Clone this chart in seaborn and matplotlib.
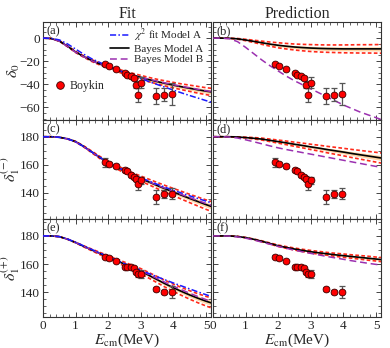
import numpy as np
import pandas as pd
import seaborn as sns
import matplotlib
matplotlib.use("Agg")
import matplotlib.pyplot as plt
from matplotlib.ticker import MultipleLocator, AutoMinorLocator
from matplotlib.lines import Line2D

# ---------------- data ----------------
E_grid = [0, 0.25, 0.5, 0.75, 1.0, 1.25, 1.5, 1.75, 2.0, 2.25, 2.5, 2.75,
          3.0, 3.25, 3.5, 3.75, 4.0, 4.25, 4.5, 4.75, 5.0, 5.25]

# Boykin data
E_data = [1.90, 2.01, 2.23, 2.51, 2.59, 2.69, 2.78, 2.86, 2.92, 2.99, 3.47, 3.72, 3.95]
d0_data = [-22.8, -24.0, -27.0, -30.2, -31.7, -33.2, -34.4, -40.4, -49.2, -38.6, -50.4, -49.2, -48.4]
d0_err = [1.0, 1.0, 1.0, 1.2, 1.2, 1.2, 1.5, 3.0, 6.0, 4.9, 6.8, 5.6, 9.3]
d1m_data = [161.6, 160.7, 158.8, 156.0, 155.3, 152.7, 151.0, 149.9, 145.9, 148.7, 136.9, 139.0, 139.0]
d1m_err = [3.0, 1.5, 1.5, 1.5, 1.5, 1.5, 1.5, 2.0, 4.4, 2.6, 5.0, 3.0, 4.0]
d1p_data = [165.3, 164.1, 162.2, 158.2, 158.2, 158.0, 157.0, 154.6, 153.1, 153.0, 142.4, 140.3, 140.3]
d1p_err = [1.0, 1.0, 1.0, 1.0, 1.0, 1.0, 1.0, 1.5, 2.0, 2.7, 1.5, 1.5, 4.3]

# (a) delta_0 fit
d0_fit_chi2 = [0, -0.2, -1.5, -5, -9.5, -14, -18, -21.2, -24.2, -27, -29.8, -32.5,
               -35.1, -37.7, -40.2, -42.7, -45.1, -47.5, -49.8, -52, -54.2, -56.3]
d0_fit_A = [0, -0.3, -2.5, -7, -12, -16, -19.5, -22.5, -25, -27.5, -30, -32,
            -34, -36, -37.7, -39.3, -40.8, -42.2, -43.5, -44.8, -46, -47]
d0_fit_B = [0, -0.3, -2.6, -7.2, -12.2, -16.2, -19.7, -22.6, -25.2, -27.6, -29.9, -31.9,
            -33.8, -35.6, -37.3, -38.9, -40.4, -41.8, -43.1, -44.4, -45.6, -46.7]
d0_fit_in = [0, 0, 0.1, 0.2, 0.3, 0.4, 0.5, 0.5, 0.6, 0.7, 0.8, 0.9,
             1.0, 1.1, 1.2, 1.3, 1.4, 1.5, 1.6, 1.7, 1.8, 1.9]
d0_fit_out = [0, 0, 0.2, 0.4, 0.5, 0.6, 0.8, 0.9, 1.0, 1.2, 1.4, 1.5,
              1.7, 1.9, 2.0, 2.2, 2.4, 2.5, 2.7, 2.9, 3.0, 3.2]

# (b) delta_0 prediction
d0_pred_A = [0, 0, -0.1, -0.6, -1.6, -2.8, -4, -5.2, -6.2, -7, -7.7, -8.2,
             -8.6, -8.9, -9.1, -9.2, -9.3, -9.3, -9.3, -9.3, -9.3, -9.3]
d0_pred_B = [0, 0, -0.5, -3, -8, -13.5, -19, -24, -28.5, -33, -37, -40.5,
             -44, -47.5, -51, -54.5, -58, -61, -64, -66.5, -69, -71.5]
d0_pred_in = [0, 0, 0, 0.1, 0.3, 0.5, 0.7, 0.9, 1.1, 1.2, 1.3, 1.4,
              1.5, 1.5, 1.6, 1.6, 1.7, 1.7, 1.8, 1.8, 1.8, 1.9]
d0_pred_out = [0, 0, 0.1, 0.3, 0.6, 1.0, 1.4, 1.8, 2.2, 2.4, 2.6, 2.8,
               3.0, 3.1, 3.2, 3.3, 3.4, 3.5, 3.6, 3.6, 3.7, 3.8]

# (c) delta_1^(-) fit
d1m_fit_chi2 = [180, 180, 179.6, 178.5, 176.4, 172.9, 169, 165.1, 161.7, 158.6, 155.7, 153,
                150.6, 148.2, 145.9, 143.7, 141.6, 139.6, 137.6, 135.7, 133.8, 132]
d1m_fit_A = [180, 180, 179.6, 178.5, 176.5, 173, 169, 165, 161.5, 158.3, 155.3, 152.5,
             150, 147.5, 145, 142.6, 140.3, 138, 135.7, 133.5, 131.3, 129.3]
d1m_fit_B = [180, 180, 179.6, 178.4, 176.3, 172.8, 168.9, 165, 161.5, 158.4, 155.4, 152.7,
             150.2, 147.7, 145.3, 143, 140.7, 138.5, 136.3, 134.2, 132.1, 130.2]
d1m_fit_in = [0, 0, 0, 0.05, 0.1, 0.2, 0.3, 0.4, 0.5, 0.6, 0.7, 0.8,
              0.9, 1.0, 1.1, 1.2, 1.3, 1.4, 1.5, 1.6, 1.7, 1.8]
d1m_fit_out = [0, 0, 0, 0.1, 0.2, 0.4, 0.6, 0.8, 1.0, 1.2, 1.4, 1.6,
               1.8, 2.0, 2.2, 2.4, 2.6, 2.8, 3.0, 3.2, 3.4, 3.6]

# (d) delta_1^(-) prediction
d1m_pred_A = [180, 180, 180, 179.8, 179.4, 178.9, 178.3, 177.4, 176.5, 175.6, 174.6, 173.7,
              172.7, 171.8, 170.8, 169.9, 169, 168, 167.1, 166.2, 165.3, 164.4]
d1m_pred_B = [180, 180, 179.8, 179.1, 177.8, 176.4, 174.9, 173.4, 172, 170.8, 169.7, 168.6,
              167.5, 166.4, 165.3, 164.2, 163.1, 162, 160.9, 159.8, 158.7, 157.6]
d1m_pred_in = [0, 0, 0, 0, 0.1, 0.2, 0.3, 0.4, 0.5, 0.6, 0.7, 0.8,
               0.9, 1.0, 1.1, 1.2, 1.3, 1.4, 1.5, 1.6, 1.7, 1.8]
d1m_pred_out = [0, 0, 0, 0.1, 0.3, 0.5, 0.7, 0.9, 1.1, 1.3, 1.5, 1.7,
                1.9, 2.1, 2.3, 2.5, 2.7, 2.9, 3.1, 3.3, 3.5, 3.7]

# (e) delta_1^(+) fit
d1p_fit_chi2 = [180, 180, 179.5, 177.8, 175.5, 172.9, 170.3, 167.8, 165.3, 162.8, 160.3, 158,
                155.7, 153.3, 151, 148.8, 146.6, 144.5, 142.4, 140.3, 138.3, 136.4]
d1p_fit_A = [180, 180, 179.5, 177.7, 175.3, 172.6, 170, 167.5, 165, 162.5, 160, 157.5,
             155, 152, 149, 146, 143.2, 140.6, 138.1, 135.8, 133.7, 131.8]
d1p_fit_B = [180, 180, 179.5, 177.7, 175.3, 172.6, 170, 167.5, 165, 162.6, 160.2, 157.8,
             155.4, 152.6, 149.8, 147, 144.3, 141.8, 139.3, 137, 134.8, 132.8]
d1p_fit_in = [0, 0, 0, 0.05, 0.1, 0.2, 0.3, 0.4, 0.5, 0.6, 0.7, 0.8,
              0.9, 1.0, 1.1, 1.2, 1.3, 1.4, 1.5, 1.6, 1.7, 1.8]
d1p_fit_out = [0, 0, 0, 0.1, 0.2, 0.4, 0.6, 0.8, 1.0, 1.2, 1.4, 1.6,
               1.8, 2.0, 2.2, 2.4, 2.6, 2.8, 3.0, 3.2, 3.4, 3.6]

# (f) delta_1^(+) prediction
d1p_pred_A = [180, 180, 180, 179.6, 178.8, 177.6, 176.2, 174.6, 173, 171.8, 170.7, 169.7,
              168.8, 168, 167.3, 166.6, 166, 165.4, 164.8, 164.2, 163.6, 163]
d1p_pred_B = [180, 180, 179.9, 179.3, 178.4, 177.1, 175.6, 174.1, 172.6, 171.2, 169.9, 168.7,
              167.6, 166.5, 165.4, 164.4, 163.4, 162.4, 161.5, 160.6, 159.8, 159]
d1p_pred_in = [0, 0, 0, 0, 0.05, 0.1, 0.15, 0.2, 0.25, 0.3, 0.35, 0.4,
               0.45, 0.5, 0.5, 0.55, 0.6, 0.6, 0.65, 0.7, 0.7, 0.75]
d1p_pred_out = [0, 0, 0, 0, 0.1, 0.2, 0.3, 0.4, 0.5, 0.6, 0.7, 0.8,
                0.9, 1.0, 1.0, 1.1, 1.2, 1.2, 1.3, 1.4, 1.4, 1.5]

col_titles = ["Fit", "Prediction"]
panel_labels = ["(a)", "(b)", "(c)", "(d)", "(e)", "(f)"]
ylabels = [r"$\delta_0$", r"$\delta_1^{(-)}$", r"$\delta_1^{(+)}$"]
legend_labels = [r"$\chi^2$ fit Model A", "Bayes Model A", "Bayes Model B"]
data_label = "Boykin"

# ---------------- style ----------------
sns.set_theme(style="ticks")
plt.rcParams["font.family"] = ["Liberation Serif", "DejaVu Serif"]
plt.rcParams["mathtext.fontset"] = "stix"
plt.rcParams["xtick.direction"] = "in"
plt.rcParams["ytick.direction"] = "in"

C_BLUE = "#1a1aff"
C_BLACK = "black"
C_PURPLE = "#9b30b0"
C_RED = "#ff2a1a"
C_FILL = "#fdd5a5"

fig = plt.figure(figsize=(3.9, 3.48), dpi=100)
W, H = 390.0, 348.0
lefts = [43, 213]
widths = [168, 168]
tops = [22, 120, 219]
heights = [98, 99, 98]

rows = [
    dict(ylim=(-71, 14), yticks=[-60, -40, -20, 0], ydata=d0_data, yerr=d0_err,
         fit=(d0_fit_chi2, d0_fit_A, d0_fit_B, d0_fit_in, d0_fit_out),
         pred=(d0_pred_A, d0_pred_B, d0_pred_in, d0_pred_out)),
    dict(ylim=(121, 192), yticks=[140, 160, 180], ydata=d1m_data, yerr=d1m_err,
         fit=(d1m_fit_chi2, d1m_fit_A, d1m_fit_B, d1m_fit_in, d1m_fit_out),
         pred=(d1m_pred_A, d1m_pred_B, d1m_pred_in, d1m_pred_out)),
    dict(ylim=(122.5, 192), yticks=[140, 160, 180], ydata=d1p_data, yerr=d1p_err,
         fit=(d1p_fit_chi2, d1p_fit_A, d1p_fit_B, d1p_fit_in, d1p_fit_out),
         pred=(d1p_pred_A, d1p_pred_B, d1p_pred_in, d1p_pred_out)),
]

Eg = np.array(E_grid)
red_ls = (0, (2.2, 1.4))
purple_ls = (0, (4.5, 2.5))
blue_ls = (0, (4, 1.5, 1, 1.5))


def draw_band(ax, A, inner, outer):
    A = np.array(A); inner = np.array(inner); outer = np.array(outer)
    ax.fill_between(Eg, A - inner, A + inner, color=C_FILL, lw=0, zorder=1)
    sns.lineplot(x=Eg, y=A - outer, ax=ax, color=C_RED, lw=1.2, linestyle=red_ls,
                 estimator=None, errorbar=None, zorder=2)
    sns.lineplot(x=Eg, y=A + outer, ax=ax, color=C_RED, lw=1.2, linestyle=red_ls,
                 estimator=None, errorbar=None, zorder=2)
    sns.lineplot(x=Eg, y=A, ax=ax, color=C_BLACK, lw=1.2,
                 estimator=None, errorbar=None, zorder=3)


def draw_data(ax, ydata, yerr):
    ax.errorbar(E_data, ydata, yerr=yerr, fmt="none", ecolor="#555555",
                elinewidth=0.9, capsize=2.2, capthick=0.9, zorder=5)
    sns.scatterplot(x=E_data, y=ydata, ax=ax, color="#ff0000", edgecolor="#3a0000",
                    linewidth=0.6, s=24, zorder=6, legend=False)


axes = []
for r, row in enumerate(rows):
    for c in range(2):
        x0 = lefts[c] / W
        y0 = 1 - (tops[r] + heights[r]) / H
        ax = fig.add_axes([x0, y0, widths[c] / W, heights[r] / H])
        axes.append(ax)
        if c == 0:
            chi2, A, B, inner, outer = row["fit"]
            draw_band(ax, A, inner, outer)
            sns.lineplot(x=Eg, y=B, ax=ax, color=C_PURPLE, lw=1.1, linestyle=purple_ls,
                         estimator=None, errorbar=None, zorder=4)
            sns.lineplot(x=Eg, y=chi2, ax=ax, color=C_BLUE, lw=1.1, linestyle=blue_ls,
                         estimator=None, errorbar=None, zorder=4)
        else:
            A, B, inner, outer = row["pred"]
            draw_band(ax, A, inner, outer)
            sns.lineplot(x=Eg, y=B, ax=ax, color=C_PURPLE, lw=1.1, linestyle=purple_ls,
                         estimator=None, errorbar=None, zorder=4)
        draw_data(ax, row["ydata"], row["yerr"])

        ax.set_xlim(0, 5.15)
        ax.set_ylim(*row["ylim"])
        ax.set_yticks(row["yticks"])
        ax.xaxis.set_major_locator(MultipleLocator(1))
        ax.xaxis.set_minor_locator(AutoMinorLocator(5))
        ax.yaxis.set_minor_locator(AutoMinorLocator(4))
        ax.tick_params(which="both", top=True, right=True, direction="in",
                       labelsize=9.5, pad=2)
        ax.tick_params(which="major", length=3.5, width=0.6)
        ax.tick_params(which="minor", length=2, width=0.5)
        for s in ax.spines.values():
            s.set_linewidth(0.8)
            s.set_color("#333333")
        ax.set_xlabel("")
        ax.set_ylabel("")
        if c == 0:
            ax.set_ylabel(ylabels[r], fontsize=11.5)
            ax.yaxis.set_label_coords(-0.125, 0.5)
        else:
            ax.set_yticklabels([])
        if r < 2:
            ax.set_xticklabels([])
        else:
            ax.set_xlabel(r"$E_{\rm cm}$(MeV)", fontsize=11, labelpad=0)
        ax.text(0.02, 0.97, panel_labels[2 * r + c], transform=ax.transAxes,
                fontsize=9, va="top", ha="left")
        if r == 0:
            ax.set_title(col_titles[c], fontsize=11.5, pad=3)

# legends in panel (a)
axa = axes[0]
handles = [Line2D([], [], color=C_BLUE, lw=1.1, linestyle=blue_ls),
           Line2D([], [], color=C_BLACK, lw=1.2),
           Line2D([], [], color=C_PURPLE, lw=1.1, linestyle=purple_ls)]
leg = axa.legend(handles, legend_labels, loc="upper right", bbox_to_anchor=(0.99, 1.02),
                 frameon=False, fontsize=8, handlelength=1.7, handletextpad=0.4,
                 labelspacing=0.05, borderaxespad=0.2)
axa.add_artist(leg)
h2 = [Line2D([], [], marker="o", color="none", markerfacecolor="#ff0000",
             markeredgecolor="#3a0000", markersize=5.5, markeredgewidth=0.6)]
axa.legend(h2, [data_label], loc="center left", bbox_to_anchor=(0.04, 0.35),
           frameon=False, fontsize=8.5, handlelength=1.0, handletextpad=0.3,
           borderaxespad=0.0)

fig.savefig("out.png", dpi=100)
